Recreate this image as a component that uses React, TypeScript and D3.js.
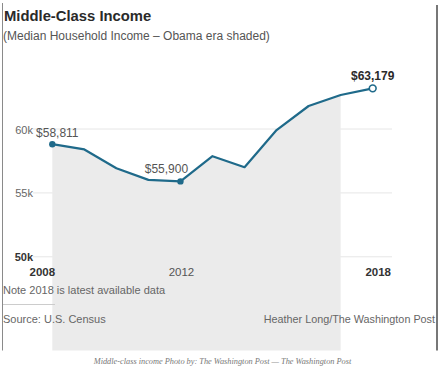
import React from "react";
import * as d3 from "d3";

const years = [2008, 2009, 2010, 2011, 2012, 2013, 2014, 2015, 2016, 2017, 2018];
const incomes = [58811, 58400, 56930, 56020, 55900, 57870, 57010, 59920, 61800, 62660, 63179];
const yTicks = [50000, 55000, 60000];
const yTickLabels = ["50k", "55k", "60k"];
const xTicks = [2008, 2012, 2018];
const shadedYears = [2008, 2017];
const annotations = [
  { year: 2008, value: 58811, label: "$58,811" },
  { year: 2012, value: 55900, label: "$55,900" },
  { year: 2018, value: 63179, label: "$63,179" },
];

const W = 441;
const H = 376;
const FONT = "'Liberation Sans', Arial, sans-serif";
const LINE = "#1f6a8a";

export default function App() {
  const x = d3.scaleLinear().domain([2008, 2018]).range([52.3, 372.7]);
  const y = d3.scaleLinear().domain([50000, 60000]).range([256.8, 129]);
  const data = years.map((yr, i) => ({ yr, v: incomes[i] }));
  const shaded = data.filter((d) => d.yr >= shadedYears[0] && d.yr <= shadedYears[1]);
  const bottom = 350.5;
  const area = d3
    .area<{ yr: number; v: number }>()
    .x((d) => x(d.yr))
    .y0(bottom)
    .y1((d) => y(d.v));
  const line = d3
    .line<{ yr: number; v: number }>()
    .x((d) => x(d.yr))
    .y((d) => y(d.v));

  return (
    <svg
      width={W}
      height={H}
      style={{ position: "absolute", left: 0, top: 0, background: "#fff" }}
      fontFamily={FONT}
    >
      {/* frame */}
      <line x1={2.5} x2={2.5} y1={3} y2={350.5} stroke="#8a8a8a" strokeWidth={1} />
      <line x1={437} x2={437} y1={5} y2={350.5} stroke="#777" strokeWidth={2} />

      {/* title */}
      <text x={4} y={21} fontSize={14.8} fontWeight="bold" fill="#2a2a2a">
        Middle-Class Income
      </text>
      <text x={3} y={39.5} fontSize={12} fill="#555">
        (Median Household Income – Obama era shaded)
      </text>

      {/* gridlines */}
      {yTicks.map((t) => (
        <line key={t} x1={33} x2={392} y1={y(t)} y2={y(t)} stroke="#e6e6e6" strokeWidth={1} />
      ))}

      {/* shaded area */}
      <path d={area(shaded) || ""} fill="#ebebeb" />

      {/* y labels */}
      {yTicks.map((t, i) => (
        <text
          key={t}
          x={33}
          y={y(t) + 4.5}
          textAnchor="end"
          fontSize={11}
          fontWeight={t === 50000 ? "bold" : "normal"}
          fill={t === 50000 ? "#333" : "#666"}
        >
          {yTickLabels[i]}
        </text>
      ))}

      {/* x labels */}
      {xTicks.map((t) => {
        const bold = t !== 2012;
        const dx = t === 2008 ? -10 : t === 2018 ? 5.5 : 1;
        return (
          <text
            key={t}
            x={x(t) + dx}
            y={276}
            textAnchor="middle"
            fontSize={11.5}
            fontWeight={bold ? "bold" : "normal"}
            fill={bold ? "#333" : "#555"}
          >
            {t}
          </text>
        );
      })}

      {/* line */}
      <path d={line(data) || ""} fill="none" stroke={LINE} strokeWidth={2.2} strokeLinejoin="round" />

      {/* dots */}
      {annotations.map((a) => {
        const last = a.year === 2018;
        return (
          <circle
            key={a.year}
            cx={x(a.year)}
            cy={y(a.value)}
            r={last ? 3.4 : 3.2}
            fill={last ? "#fff" : LINE}
            stroke={LINE}
            strokeWidth={last ? 1.6 : 0}
          />
        );
      })}

      {/* annotation labels */}
      {annotations.map((a) => {
        const last = a.year === 2018;
        const dx = a.year === 2008 ? 5 : a.year === 2012 ? -14 : 0;
        const dy = a.year === 2008 ? -7.5 : a.year === 2012 ? -8.5 : -8;
        return (
          <text
            key={a.year}
            x={x(a.year) + dx}
            y={y(a.value) + dy}
            textAnchor="middle"
            fontSize={12}
            fontWeight={last ? "bold" : "normal"}
            fill={last ? "#2a2a2a" : "#555"}
          >
            {a.label}
          </text>
        );
      })}

      {/* footer */}
      <text x={3} y={294} fontSize={11} fill="#666">
        Note 2018 is latest available data
      </text>
      <line x1={3} x2={55} y1={304.5} y2={304.5} stroke="#ccc" strokeWidth={1} />
      <text x={3} y={323} fontSize={11} fill="#666">
        Source: U.S. Census
      </text>
      <text x={435} y={323} fontSize={10.8} fill="#666" textAnchor="end">
        Heather Long/The Washington Post
      </text>

      {/* caption */}
      <text
        x={222.5}
        y={364}
        fontSize={8.3}
        fontStyle="italic"
        fill="#777"
        textAnchor="middle"
        fontFamily="'Liberation Serif', serif"
      >
        Middle-class income Photo by: The Washington Post — The Washington Post
      </text>
    </svg>
  );
}
